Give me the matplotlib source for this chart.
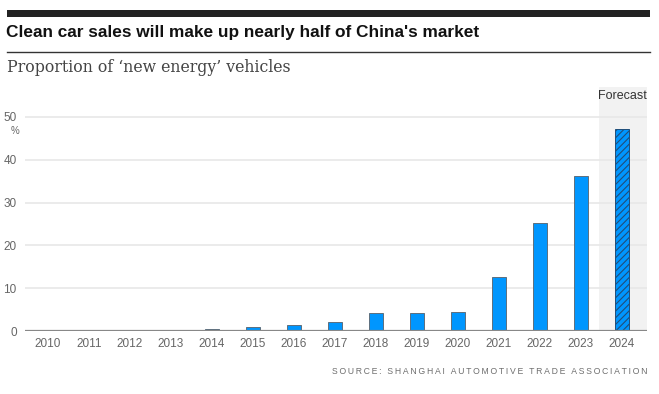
import matplotlib
matplotlib.use('Agg')
import matplotlib.pyplot as plt

years = [2010, 2011, 2012, 2013, 2014, 2015, 2016, 2017, 2018, 2019, 2020, 2021, 2022, 2023, 2024]
share = [0, 0, 0, 0, 0.4, 0.85, 1.3, 2.2, 4.1, 4.1, 4.5, 12.5, 25.2, 36.2, 47.1]
forecast_year = 2024
yticks = [0, 10, 20, 30, 40, 50]

title = "Clean car sales will make up nearly half of China's market"
subtitle = "Proportion of \u2018new energy\u2019 vehicles"
source = "SOURCE: SHANGHAI AUTOMOTIVE TRADE ASSOCIATION"

W, H = 659, 394
plt.rcParams['hatch.color'] = '#1f4e7a'
plt.rcParams['hatch.linewidth'] = 0.8
fig = plt.figure(figsize=(W / 100, H / 100), dpi=100)

sans = ['Liberation Sans', 'DejaVu Sans']

# header rules and texts
fig.add_artist(plt.Rectangle((7 / W, 1 - 16.5 / H), 643 / W, 6.5 / H, color='#222222', lw=0))
fig.add_artist(plt.Line2D([7 / W, 650 / W], [1 - 51.5 / H] * 2, color='#333333', lw=1))
fig.text(6 / W, 1 - 32 / H, title, fontsize=12.4, fontweight='bold', family=sans,
         color='#111111', va='center')
fig.text(7 / W, 1 - 67 / H, subtitle, fontsize=11.3, family='DejaVu Serif', color='#444444', va='center')

ax = fig.add_axes([25 / W, 1 - 331 / H, 622 / W, 244 / H])
x = [y - years[0] for y in years]
bars = ax.bar(x, share, width=0.34, color='#0096fe', edgecolor='#5d6f7e', linewidth=0.7, zorder=3)
fi = years.index(forecast_year)
bars[fi].set_hatch('/////')
bars[fi].set_edgecolor('#1f4e7a')

ax.set_xlim(-0.56, 14.61)
ax.set_ylim(0, 57)
ax.axvspan(fi - 0.56, 14.61, color='#f2f2f2', lw=0, zorder=0)
ax.text(fi, 54.8, "Forecast", ha='center', va='center', fontsize=9, family=sans, color='#333333')

for t in yticks[1:]:
    ax.axhline(t, color='#e8e8e8', lw=1.2, zorder=1)
ax.axhline(0, color='#888888', lw=1.6, zorder=4)

for s in ax.spines.values():
    s.set_visible(False)
ax.set_xticks(x)
ax.set_xticklabels([str(y) for y in years], family=sans, fontsize=8.5, color='#666666')
ax.set_yticks(yticks)
ax.set_yticklabels([str(t) for t in yticks], family=sans, fontsize=8.5, color='#666666')
ax.tick_params(length=0, axis='x', pad=5)
ax.tick_params(length=0, axis='y', pad=6)
ax.text(-0.8, 46.8, "%", ha='center', va='center', fontsize=7, family=sans, color='#666666',
        transform=ax.transData, clip_on=False)

# letter-spaced source line (thin spaces between letters)
spaced = '\u2009'.join(source)
fig.text(647 / W, 1 - 372 / H, spaced, fontsize=6.2, family=sans, color='#6e6e6e',
         ha='right', va='center')

fig.savefig('out.png', dpi=100)
